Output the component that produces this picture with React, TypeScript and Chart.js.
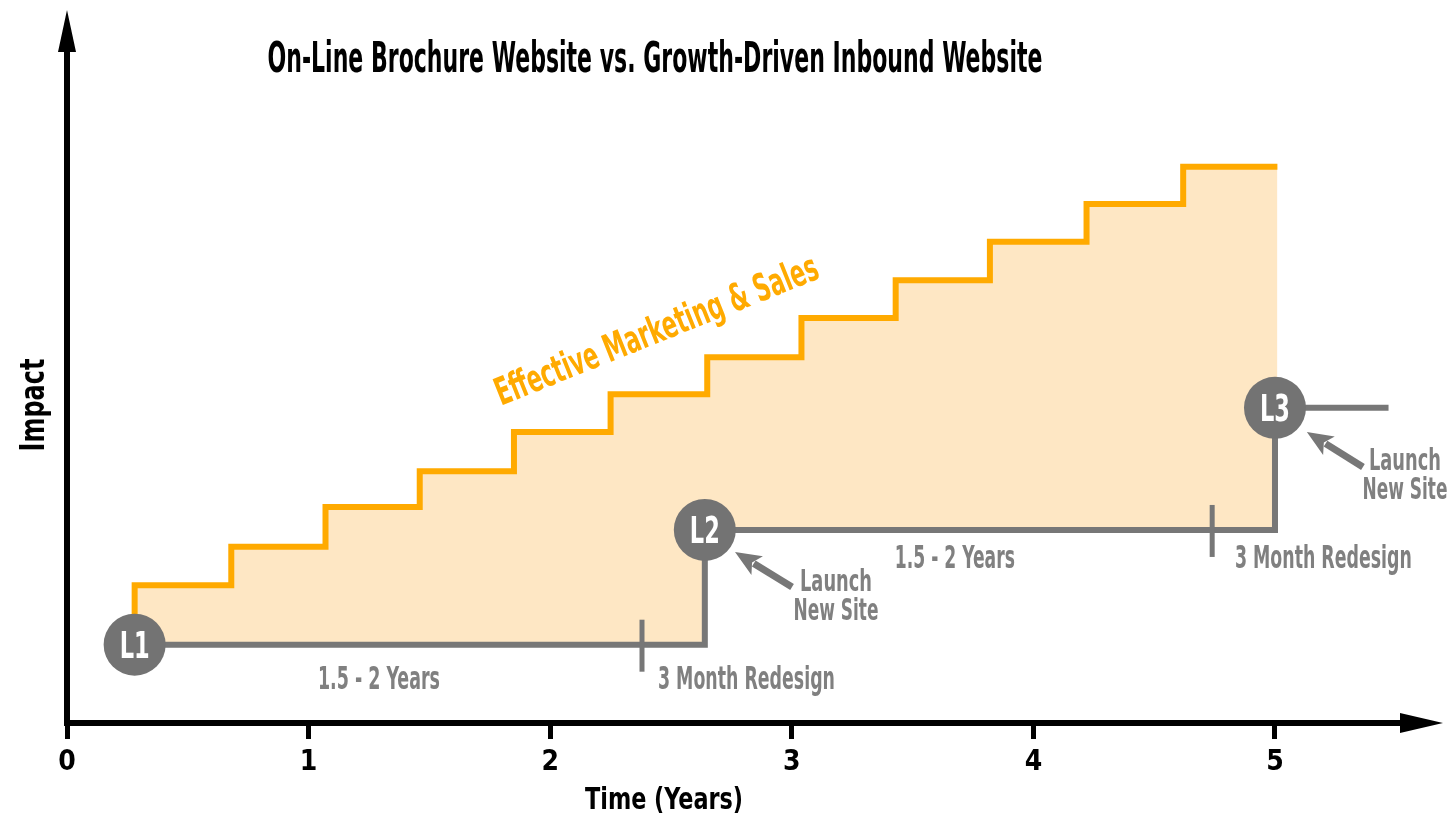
import React, { useEffect, useRef } from 'react';
import { Chart, registerables } from 'chart.js';

Chart.register(...registerables);

// ---------- data ----------
const chartTitle = 'On-Line Brochure Website vs. Growth-Driven Inbound Website';
const xAxisTitle = 'Time (Years)';
const yAxisTitle = 'Impact';
const xTickValues = [0, 1, 2, 3, 4, 5];
const xTickLabels = ['0', '1', '2', '3', '4', '5'];

// Growth-driven website: impact steps up every few months
const marketingX = [0.28, 0.68, 1.07, 1.46, 1.85, 2.25, 2.65, 3.04, 3.43, 3.82, 4.22, 4.62, 5.01];
const marketingY = [1.16, 2.04, 2.61, 3.2, 3.73, 4.31, 4.87, 5.42, 6.0, 6.56, 7.13, 7.69, 8.24];

// On-line brochure website: flat between redesign launches
const brochureX = [0.28, 2.64, 5.0, 5.47];
const brochureY = [1.16, 1.16, 2.86, 4.67];

// launches
const launchX = [0.28, 2.64, 5.0];
const launchY = [1.16, 2.86, 4.67];
const launchLabels = ['L1', 'L2', 'L3'];

// redesign start marks
const redesignX = [2.38, 4.74];
const redesignY = [1.16, 2.86];

const marketingLabel = 'Effective Marketing & Sales';
const cycleLabel = '1.5 - 2 Years';
const redesignLabel = '3 Month Redesign';
const launchNote = ['Launch', 'New Site'];

// ---------- styles ----------
const FONT = '"Liberation Sans Narrow", "DejaVu Sans Condensed", "Arial Narrow", sans-serif';
const ORANGE = '#FFAA00';
const FILL = '#FEE7C4';
const GRAY = '#777777';
const GRAY_TEXT = '#808080';
const CIRCLE = '#737373';

function drawFit(
  ctx: CanvasRenderingContext2D,
  text: string,
  x: number,
  y: number,
  size: number,
  width: number,
  color: string,
  align: CanvasTextAlign = 'center',
  rotate = 0
) {
  ctx.save();
  ctx.font = `bold ${size}px ${FONT}`;
  const w = ctx.measureText(text).width || 1;
  ctx.translate(x, y);
  if (rotate) ctx.rotate(rotate);
  ctx.scale(width / w, 1);
  ctx.textAlign = align;
  ctx.textBaseline = 'alphabetic';
  ctx.fillStyle = color;
  ctx.fillText(text, 0, size * 0.36);
  ctx.restore();
}

function drawArrow(
  ctx: CanvasRenderingContext2D,
  x1: number,
  y1: number,
  x2: number,
  y2: number,
  color: string
) {
  const lw = 7;
  const headLen = 26;
  const headW = 11;
  const ang = Math.atan2(y2 - y1, x2 - x1);
  const bx = x2 - headLen * Math.cos(ang);
  const by = y2 - headLen * Math.sin(ang);
  ctx.save();
  ctx.strokeStyle = color;
  ctx.lineWidth = lw;
  ctx.beginPath();
  ctx.moveTo(x1, y1);
  ctx.lineTo(bx + 4 * Math.cos(ang), by + 4 * Math.sin(ang));
  ctx.stroke();
  ctx.fillStyle = color;
  ctx.beginPath();
  ctx.moveTo(x2, y2);
  ctx.lineTo(bx + headW * Math.sin(ang), by - headW * Math.cos(ang));
  ctx.lineTo(bx + 6 * Math.cos(ang), by + 6 * Math.sin(ang));
  ctx.lineTo(bx - headW * Math.sin(ang), by + headW * Math.cos(ang));
  ctx.closePath();
  ctx.fill();
  ctx.restore();
}

const annotatePlugin = {
  id: 'annotate',
  afterDraw(chart: any) {
    const { ctx, chartArea: ca, scales } = chart;
    const xs = scales.x;
    const ys = scales.y;
    const px = (v: number) => xs.getPixelForValue(v);
    const py = (v: number) => ys.getPixelForValue(v);

    // axis arrow heads
    ctx.save();
    ctx.fillStyle = '#000';
    ctx.beginPath();
    ctx.moveTo(ca.left, 10);
    ctx.lineTo(ca.left - 9, 52);
    ctx.lineTo(ca.left + 9, 52);
    ctx.closePath();
    ctx.fill();
    ctx.beginPath();
    ctx.moveTo(1443, ca.bottom);
    ctx.lineTo(1400, ca.bottom - 10);
    ctx.lineTo(1400, ca.bottom + 10);
    ctx.closePath();
    ctx.fill();
    ctx.restore();

    // titles
    drawFit(ctx, chartTitle, 655, 57, 42, 775, '#000');
    drawFit(ctx, xAxisTitle, 664, 798, 30, 158, '#000');
    drawFit(ctx, yAxisTitle, 32, 405, 34, 93, '#000', 'center', -Math.PI / 2);

    // marketing label
    drawFit(ctx, marketingLabel, px(2.438), py(5.837), 38, 345, ORANGE, 'center', (-21.8 * Math.PI) / 180);

    // redesign marks
    ctx.save();
    ctx.strokeStyle = GRAY;
    ctx.lineWidth = 5;
    redesignX.forEach((rx, i) => {
      const cx = px(rx);
      const cy = py(redesignY[i]);
      ctx.beginPath();
      ctx.moveTo(cx, cy - 25);
      ctx.lineTo(cx, cy + 27);
      ctx.stroke();
    });
    ctx.restore();

    // cycle labels
    drawFit(ctx, cycleLabel, px(1.291), py(0.681), 32, 122, GRAY_TEXT);
    drawFit(ctx, cycleLabel, px(3.675), py(2.474), 32, 120, GRAY_TEXT);

    // redesign labels
    drawFit(ctx, redesignLabel, px(2.446), py(0.681), 32, 177, GRAY_TEXT, 'left');
    drawFit(ctx, redesignLabel, px(4.834), py(2.474), 32, 177, GRAY_TEXT, 'left');

    // launch notes
    const notes = [
      { cx: 3.183, y1: 2.119, y2: 1.689, tail: [3.001, 2.015], tip: [2.765, 2.533] },
      { cx: 5.538, y1: 3.911, y2: 3.481, tail: [5.364, 3.793], tip: [5.132, 4.311] },
    ];
    notes.forEach((n) => {
      drawFit(ctx, launchNote[0], px(n.cx), py(n.y1), 30, 72, GRAY_TEXT);
      drawFit(ctx, launchNote[1], px(n.cx), py(n.y2), 30, 85, GRAY_TEXT);
      drawArrow(ctx, px(n.tail[0]), py(n.tail[1]), px(n.tip[0]), py(n.tip[1]), GRAY);
    });

    // launch circle labels
    launchLabels.forEach((lab, i) => {
      drawFit(ctx, lab, px(launchX[i]), py(launchY[i]), 37, 30, '#fff');
    });
  },
};

export default function App() {
  const canvasRef = useRef<HTMLCanvasElement | null>(null);

  useEffect(() => {
    document.body.style.margin = '0';
    const canvas = canvasRef.current;
    if (!canvas) return;
    const chart = new Chart(canvas, {
      type: 'line',
      data: {
        datasets: [
          {
            label: marketingLabel,
            data: marketingX.map((x, i) => ({ x, y: marketingY[i] })),
            stepped: 'after',
            borderColor: ORANGE,
            borderWidth: 6,
            borderJoinStyle: 'miter',
            borderCapStyle: 'butt',
            pointRadius: 0,
            backgroundColor: FILL,
            fill: { target: 1, above: FILL, below: FILL },
            order: 2,
          },
          {
            label: 'On-Line Brochure Website',
            data: brochureX.map((x, i) => ({ x, y: brochureY[i] })),
            stepped: 'after',
            borderColor: GRAY,
            borderWidth: 6,
            borderJoinStyle: 'miter',
            borderCapStyle: 'butt',
            pointRadius: 0,
            fill: false,
            order: 1,
          },
          {
            label: 'Launch',
            data: launchX.map((x, i) => ({ x, y: launchY[i] })),
            showLine: false,
            pointRadius: 31,
            pointBackgroundColor: CIRCLE,
            pointBorderWidth: 0,
            borderWidth: 0,
            order: 0,
          },
        ],
      },
      options: {
        responsive: false,
        animation: false,
        events: [],
        devicePixelRatio: 1,
        layout: { padding: { top: 48, right: 50, left: 0, bottom: 0 } },
        plugins: {
          legend: { display: false },
          tooltip: { enabled: false },
          title: { display: false },
        },
        scales: {
          x: {
            type: 'linear',
            min: 0,
            max: 5.534,
            afterBuildTicks: (scale: any) => {
              scale.ticks = xTickValues.map((v) => ({ value: v }));
            },
            afterFit: (scale: any) => {
              scale.height = 97;
            },
            ticks: {
              includeBounds: false,
              autoSkip: false,
              maxRotation: 0,
              padding: 7,
              color: '#000',
              font: { family: FONT, size: 28, weight: 'bold' },
              callback: (v: any, i: number) => xTickLabels[i],
            },
            grid: {
              display: true,
              drawOnChartArea: false,
              drawTicks: true,
              tickLength: 16,
              tickWidth: 5,
              tickColor: '#000',
            },
            border: { display: true, color: '#000', width: 6 },
          },
          y: {
            type: 'linear',
            min: 0,
            max: 10,
            afterFit: (scale: any) => {
              scale.width = 67;
            },
            ticks: { display: false },
            grid: { display: false, drawTicks: false },
            border: { display: true, color: '#000', width: 6 },
          },
        },
      },
      plugins: [annotatePlugin],
    } as any);
    return () => chart.destroy();
  }, []);

  return (
    <div style={{ position: 'fixed', left: 0, top: 0, width: 1454, height: 820, background: '#fff' }}>
      <canvas ref={canvasRef} width={1454} height={820} style={{ width: 1454, height: 820, display: 'block' }} />
    </div>
  );
}
